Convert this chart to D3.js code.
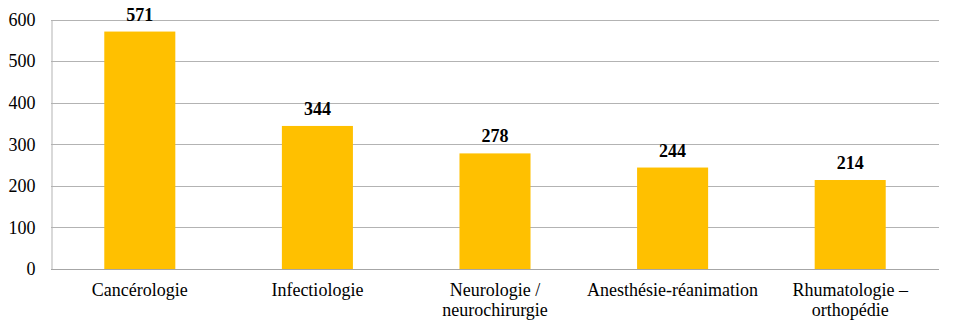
<!DOCTYPE html>
<html><head><meta charset="utf-8">
<script src="https://cdn.jsdelivr.net/npm/d3@7"></script>
<style>body{margin:0;background:#fff}svg{display:block}</style>
</head><body>
<svg id="c" width="957" height="332"></svg>
<script>
const categories = ["Cancérologie", "Infectiologie", "Neurologie / neurochirurgie", "Anesthésie-réanimation", "Rhumatologie – orthopédie"];
const categoryLines = [["Cancérologie"], ["Infectiologie"], ["Neurologie /", "neurochirurgie"], ["Anesthésie-réanimation"], ["Rhumatologie –", "orthopédie"]];
const values = [571, 344, 278, 244, 214];
const yTicks = [0, 100, 200, 300, 400, 500, 600];

const svg = d3.select("#c");
const m = {left: 51, right: 939, top: 19.5, bottom: 269};
const font = "Liberation Serif, Times New Roman, serif";
const x = d3.scaleBand().domain(categories).range([m.left, m.right]).padding(0);
const y = d3.scaleLinear().domain([0, 600]).range([m.bottom, m.top]);
const bw = x.bandwidth() * 0.4;

svg.append("g").selectAll("line").data(yTicks).join("line")
  .attr("x1", m.left).attr("x2", m.right)
  .attr("y1", d => Math.round(y(d)) + 0.5).attr("y2", d => Math.round(y(d)) + 0.5)
  .attr("stroke", "#b3b3b3").attr("stroke-width", 1);

const ya = d3.axisLeft(y).tickValues(yTicks).tickSize(0).tickPadding(16);
const g = svg.append("g").attr("transform", `translate(${m.left + 0.5},0)`).call(ya)
  .attr("font-family", font).attr("font-size", 18);
g.select(".domain").attr("stroke", "#b3b3b3");
g.selectAll("text").style("font-family", font).style("font-size", "18px").attr("fill", "#000");

svg.append("g").selectAll("rect").data(values).join("rect")
  .attr("x", (d, i) => x(categories[i]) + x.bandwidth() / 2 - bw / 2)
  .attr("width", bw)
  .attr("y", d => y(d)).attr("height", d => y(0) - y(d))
  .attr("fill", "#FFC000");

svg.append("line").attr("x1", m.left).attr("x2", m.right)
  .attr("y1", Math.round(y(0)) + 0.5).attr("y2", Math.round(y(0)) + 0.5)
  .attr("stroke", "#a6a6a6");

svg.append("g").selectAll("text").data(values).join("text")
  .attr("x", (d, i) => x(categories[i]) + x.bandwidth() / 2)
  .attr("y", d => y(d) - 11)
  .attr("text-anchor", "middle").style("font-family", font).style("font-size", "18px")
  .attr("font-weight", "bold").attr("fill", "#000").text(d => d);

const cl = svg.append("g").selectAll("text").data(categories).join("text")
  .attr("x", d => x(d) + x.bandwidth() / 2)
  .attr("y", 296)
  .attr("text-anchor", "middle").style("font-family", font).style("font-size", "18px").attr("fill", "#000");
cl.each(function(d, i) {
  d3.select(this).selectAll("tspan").data(categoryLines[i]).join("tspan")
    .attr("x", x(d) + x.bandwidth() / 2).attr("dy", (t, j) => j === 0 ? 0 : 20).text(t => t);
});
</script>
</body></html>
